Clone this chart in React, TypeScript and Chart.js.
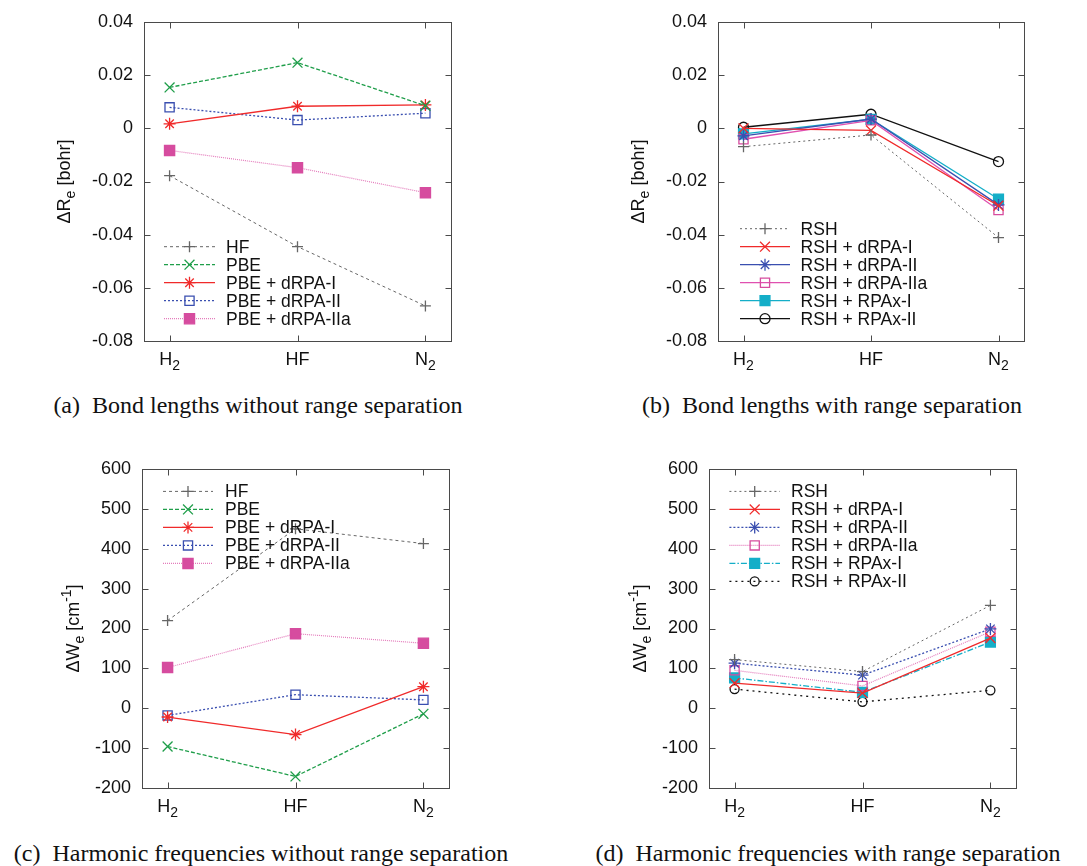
import React, { useEffect, useRef } from "react";
import { Chart, registerables } from "chart.js";

Chart.register(...registerables);

// ---------------- DATA ----------------
const categories = ["H₂", "HF", "N₂"];

const reTickValues = [-0.08, -0.06, -0.04, -0.02, 0, 0.02, 0.04];
const reTickLabels = ["-0.08", "-0.06", "-0.04", "-0.02", "0", "0.02", "0.04"];
const weTickValues = [-200, -100, 0, 100, 200, 300, 400, 500, 600];
const weTickLabels = ["-200", "-100", "0", "100", "200", "300", "400", "500", "600"];

const reTitle = "ΔRₑ [bohr]";
const weTitle = "ΔWₑ [cm⁻¹]";

// (a) bond lengths without range separation
const aLabels = ["HF", "PBE", "PBE + dRPA-I", "PBE + dRPA-II", "PBE + dRPA-IIa"];
const aHF = [-0.0178, -0.0445, -0.0668];
const aPBE = [0.0154, 0.0247, 0.0085];
const aPBEdRPAI = [0.0017, 0.0083, 0.0088];
const aPBEdRPAII = [0.0079, 0.0031, 0.0057];
const aPBEdRPAIIa = [-0.0083, -0.0148, -0.0242];

// (b) bond lengths with range separation
const bLabels = ["RSH", "RSH + dRPA-I", "RSH + dRPA-II", "RSH + dRPA-IIa", "RSH + RPAx-I", "RSH + RPAx-II"];
const bRSH = [-0.0069, -0.0025, -0.0411];
const bRSHdRPAI = [0.0, -0.0008, -0.0291];
const bRSHdRPAII = [-0.0028, 0.0035, -0.0288];
const bRSHdRPAIIa = [-0.0041, 0.003, -0.0307];
const bRSHRPAxI = [-0.0021, 0.0034, -0.0266];
const bRSHRPAxII = [0.0004, 0.0053, -0.0125];

// (c) harmonic frequencies without range separation
const cLabels = ["HF", "PBE", "PBE + dRPA-I", "PBE + dRPA-II", "PBE + dRPA-IIa"];
const cHF = [220, 450, 413];
const cPBE = [-96, -171, -14];
const cPBEdRPAI = [-22, -66, 54];
const cPBEdRPAII = [-18, 34, 21];
const cPBEdRPAIIa = [102, 187, 163];

// (d) harmonic frequencies with range separation
const dLabels = ["RSH", "RSH + dRPA-I", "RSH + dRPA-II", "RSH + dRPA-IIa", "RSH + RPAx-I", "RSH + RPAx-II"];
const dRSH = [122, 92, 258];
const dRSHdRPAI = [63, 38, 176];
const dRSHdRPAII = [113, 83, 199];
const dRSHdRPAIIa = [95, 56, 192];
const dRSHRPAxI = [76, 40, 166];
const dRSHRPAxII = [48, 16, 45];

const captions = [
  "(a)\u2002Bond lengths without range separation",
  "(b)\u2002Bond lengths with range separation",
  "(c)\u2002Harmonic frequencies without range separation",
  "(d)\u2002Harmonic frequencies with range separation",
];

// ---------------- STYLES ----------------
type Style = {
  color: string;
  lineColor?: string;
  dash: number[];
  width: number;
  marker: string;
  r: number;
  filled: boolean;
};

const GRAY = "#666666";
const GREEN = "#1f9e4a";
const RED = "#f02a2a";
const BLUE = "#3a4fb0";
const MAG = "#d64c9f";
const CYAN = "#14aec8";
const BLACK = "#111111";

const sGrayCross: Style = { color: GRAY, dash: [3, 3], width: 1, marker: "cross", r: 5.5, filled: false };
const sGreen: Style = { color: GREEN, dash: [4, 2], width: 1.3, marker: "crossRot", r: 7, filled: false };
const sRedStar: Style = { color: RED, dash: [], width: 1.3, marker: "star", r: 6, filled: false };
const sBlueSq: Style = { color: BLUE, dash: [2, 2], width: 1.3, marker: "rect", r: 6.5, filled: false };
const sMagFill: Style = { color: MAG, lineColor: "#e47cbc", dash: [1, 1], width: 1.2, marker: "rect", r: 7.2, filled: true };

const sRSHb: Style = { color: GRAY, dash: [2, 3], width: 1, marker: "cross", r: 5.5, filled: false };
const sRedX: Style = { color: RED, dash: [], width: 1.3, marker: "crossRot", r: 7, filled: false };
const sBlueStarSolid: Style = { color: BLUE, dash: [], width: 1.3, marker: "star", r: 6, filled: false };
const sMagOpenSolid: Style = { color: MAG, lineColor: "#e050b0", dash: [], width: 1.3, marker: "rect", r: 6.5, filled: false };
const sCyanSolid: Style = { color: CYAN, dash: [], width: 1.3, marker: "rect", r: 7, filled: true };
const sBlackCircle: Style = { color: BLACK, dash: [], width: 1.3, marker: "circle", r: 5, filled: false };

const sBlueStarDot: Style = { color: BLUE, dash: [2, 2], width: 1.3, marker: "star", r: 6, filled: false };
const sMagOpenDot: Style = { color: MAG, lineColor: "#e47cbc", dash: [1, 1], width: 1.2, marker: "rect", r: 6.5, filled: false };
const sCyanDashDot: Style = { color: CYAN, dash: [6, 2, 1.5, 2], width: 1.3, marker: "rect", r: 7, filled: true };
const sBlackCircleDot: Style = { color: BLACK, dash: [2, 4], width: 1.3, marker: "circle", r: 4.5, filled: false };

// ---------------- HELPERS ----------------
type Seg = { t: string; sub?: boolean; sup?: boolean };
const SUBS: Record<string, string> = { "₀": "0", "₁": "1", "₂": "2", "₃": "3", "ₑ": "e" };
const SUPS: Record<string, string> = { "⁻": "-", "¹": "1", "²": "2" };

function toSegs(s: string): Seg[] {
  const out: Seg[] = [];
  for (const ch of s) {
    let seg: Seg;
    if (SUBS[ch]) seg = { t: SUBS[ch], sub: true };
    else if (SUPS[ch]) seg = { t: SUPS[ch], sup: true };
    else seg = { t: ch };
    const last = out[out.length - 1];
    if (last && !!last.sub === !!seg.sub && !!last.sup === !!seg.sup) last.t += seg.t;
    else out.push(seg);
  }
  return out;
}

const FONT = '"Liberation Sans", Arial, Helvetica, sans-serif';
const FS = 18;

function drawRich(ctx: CanvasRenderingContext2D, text: string, x: number, y: number, size: number) {
  const segs = toSegs(text);
  const small = Math.round(size * 0.76);
  let total = 0;
  const widths = segs.map((s) => {
    ctx.font = `${s.sub || s.sup ? small : size}px ${FONT}`;
    const w = ctx.measureText(s.t).width;
    total += w;
    return w;
  });
  let cx = x - total / 2;
  ctx.textAlign = "left";
  ctx.textBaseline = "alphabetic";
  segs.forEach((s, i) => {
    ctx.font = `${s.sub || s.sup ? small : size}px ${FONT}`;
    const dy = s.sub ? size * 0.28 : s.sup ? -size * 0.42 : 0;
    ctx.fillText(s.t, cx, y + dy);
    cx += widths[i];
  });
}

function drawMarker(ctx: CanvasRenderingContext2D, st: Style, x: number, y: number) {
  const r = st.r;
  ctx.save();
  ctx.setLineDash([]);
  ctx.lineWidth = 1.3;
  ctx.strokeStyle = st.color;
  ctx.fillStyle = st.color;
  ctx.beginPath();
  const o = r * Math.SQRT1_2;
  switch (st.marker) {
    case "circle":
      ctx.arc(x, y, r, 0, Math.PI * 2);
      ctx.closePath();
      break;
    case "rect":
      ctx.rect(x - o, y - o, 2 * o, 2 * o);
      break;
    case "cross":
      ctx.moveTo(x, y - r); ctx.lineTo(x, y + r); ctx.moveTo(x - r, y); ctx.lineTo(x + r, y);
      break;
    case "crossRot":
      ctx.moveTo(x - o, y - o); ctx.lineTo(x + o, y + o); ctx.moveTo(x - o, y + o); ctx.lineTo(x + o, y - o);
      break;
    case "star":
      ctx.moveTo(x, y - r); ctx.lineTo(x, y + r); ctx.moveTo(x - r, y); ctx.lineTo(x + r, y);
      ctx.moveTo(x - o, y - o); ctx.lineTo(x + o, y + o); ctx.moveTo(x - o, y + o); ctx.lineTo(x + o, y - o);
      break;
  }
  if (st.filled) ctx.fill();
  ctx.stroke();
  ctx.restore();
}

type PanelSpec = {
  left: number; top: number; w: number; h: number;
  yW: number; xH: number; padTop: number; padRight: number;
  tickVals: number[]; tickLabels: string[]; title: string; titleOff: number;
  series: number[][]; labels: string[]; styles: Style[];
  legX: number; legY: number; legLen: number; legText: number;
};

const panels: PanelSpec[] = [
  {
    left: 0, top: 0, w: 543, h: 385, yW: 144, xH: 44, padTop: 22, padRight: 92,
    tickVals: reTickValues, tickLabels: reTickLabels, title: reTitle, titleOff: 81,
    series: [aHF, aPBE, aPBEdRPAI, aPBEdRPAII, aPBEdRPAIIa], labels: aLabels,
    styles: [sGrayCross, sGreen, sRedStar, sBlueSq, sMagFill],
    legX: 20, legY: 224.7, legLen: 51, legText: 62,
  },
  {
    left: 543, top: 0, w: 544, h: 385, yW: 175, xH: 44, padTop: 22, padRight: 63,
    tickVals: reTickValues, tickLabels: reTickLabels, title: reTitle, titleOff: 81,
    series: [bRSH, bRSHdRPAI, bRSHdRPAII, bRSHdRPAIIa, bRSHRPAxI, bRSHRPAxII], labels: bLabels,
    styles: [sRSHb, sRedX, sBlueStarSolid, sMagOpenSolid, sCyanSolid, sBlackCircle],
    legX: 22, legY: 206.7, legLen: 50, legText: 60.6,
  },
  {
    left: 0, top: 430, w: 543, h: 402, yW: 142, xH: 44, padTop: 39, padRight: 94,
    tickVals: weTickValues, tickLabels: weTickLabels, title: weTitle, titleOff: 70,
    series: [cHF, cPBE, cPBEdRPAI, cPBEdRPAII, cPBEdRPAIIa], labels: cLabels,
    styles: [sGrayCross, sGreen, sRedStar, sBlueSq, sMagFill],
    legX: 21, legY: 22.4, legLen: 50, legText: 62,
  },
  {
    left: 543, top: 430, w: 544, h: 402, yW: 166, xH: 44, padTop: 39, padRight: 71,
    tickVals: weTickValues, tickLabels: weTickLabels, title: weTitle, titleOff: 70,
    series: [dRSH, dRSHdRPAI, dRSHdRPAII, dRSHdRPAIIa, dRSHRPAxI, dRSHRPAxII], labels: dLabels,
    styles: [sRSHb, sRedX, sBlueStarDot, sMagOpenDot, sCyanDashDot, sBlackCircleDot],
    legX: 20.4, legY: 22.4, legLen: 50.6, legText: 61.6,
  },
];

function Panel({ spec }: { spec: PanelSpec }) {
  const ref = useRef<HTMLCanvasElement | null>(null);
  useEffect(() => {
    const canvas = ref.current;
    if (!canvas) return;
    const s = spec;
    const framePlugin = {
      id: "gnuFrame",
      afterDatasetsDraw(chart: any) {
        const { ctx, chartArea: a } = chart;
        ctx.save();
        s.labels.forEach((lab, i) => {
          const st = s.styles[i];
          const y = a.top + s.legY + i * 18;
          const x0 = a.left + s.legX;
          ctx.save();
          ctx.strokeStyle = st.lineColor || st.color;
          ctx.lineWidth = st.width;
          ctx.setLineDash(st.dash);
          ctx.beginPath();
          ctx.moveTo(x0, y);
          ctx.lineTo(x0 + s.legLen, y);
          ctx.stroke();
          ctx.restore();
          drawMarker(ctx, st, x0 + s.legLen / 2, y);
          ctx.fillStyle = "#111";
          ctx.font = `17.5px ${FONT}`;
          ctx.textAlign = "left";
          ctx.textBaseline = "middle";
          ctx.fillText(lab, x0 + s.legText, y + 1);
        });
        ctx.restore();
      },
      afterDraw(chart: any) {
        const { ctx, chartArea: a, scales } = chart;
        ctx.save();
        ctx.strokeStyle = "#4a4a4a";
        ctx.lineWidth = 1;
        ctx.setLineDash([]);
        const L = Math.round(a.left) + 0.5, R = Math.round(a.right) + 0.5;
        const T = Math.round(a.top) + 0.5, B = Math.round(a.bottom) + 0.5;
        ctx.strokeRect(L, T, R - L, B - T);
        ctx.beginPath();
        s.tickVals.forEach((v) => {
          const py = Math.round(scales.y.getPixelForValue(v)) + 0.5;
          ctx.moveTo(L, py); ctx.lineTo(L + 6, py);
          ctx.moveTo(R, py); ctx.lineTo(R - 6, py);
        });
        categories.forEach((_, i) => {
          const px = Math.round(scales.x.getPixelForValue(i)) + 0.5;
          ctx.moveTo(px, B); ctx.lineTo(px, B - 6);
          ctx.moveTo(px, T); ctx.lineTo(px, T + 6);
        });
        ctx.stroke();
        ctx.fillStyle = "#111";
        categories.forEach((c, i) => {
          const px = scales.x.getPixelForValue(i);
          drawRich(ctx, c, px, a.bottom + 23.5, FS);
        });
        ctx.save();
        ctx.translate(a.left - s.titleOff, (a.top + a.bottom) / 2);
        ctx.rotate(-Math.PI / 2);
        drawRich(ctx, s.title, 0, 6.5, FS);
        ctx.restore();
        ctx.restore();
      },
    };

    const datasets = s.series.map((vals, i) => {
      const st = s.styles[i];
      return {
        label: s.labels[i],
        data: vals.map((v, k) => ({ x: k, y: v })),
        borderColor: st.lineColor || st.color,
        borderWidth: st.width,
        borderDash: st.dash,
        pointStyle: st.marker,
        pointRadius: st.r,
        pointBorderColor: st.color,
        pointBackgroundColor: st.filled ? st.color : "rgba(0,0,0,0)",
        pointBorderWidth: 1.3,
        fill: false,
        tension: 0,
        showLine: true,
      };
    });

    const chart = new Chart(canvas, {
      type: "line",
      data: { datasets } as any,
      options: {
        responsive: false,
        animation: false,
        events: [],
        layout: { padding: { left: 0, top: s.padTop, right: s.padRight, bottom: 0 } },
        plugins: { legend: { display: false }, title: { display: false }, tooltip: { enabled: false } },
        scales: {
          x: {
            type: "linear",
            min: -0.2,
            max: 2.2,
            grid: { display: false },
            border: { display: false },
            ticks: { display: false },
            afterFit: (sc: any) => { sc.height = s.xH; },
          },
          y: {
            type: "linear",
            min: s.tickVals[0],
            max: s.tickVals[s.tickVals.length - 1],
            grid: { display: false, drawTicks: false },
            border: { display: false },
            afterBuildTicks: (sc: any) => { sc.ticks = s.tickVals.map((v) => ({ value: v })); },
            ticks: {
              padding: 11,
              color: "#111",
              font: { family: FONT, size: FS },
              callback: (_v: any, idx: number) => s.tickLabels[idx],
            },
            afterFit: (sc: any) => { sc.width = s.yW; },
          },
        },
      } as any,
      plugins: [framePlugin],
    });
    return () => chart.destroy();
  }, [spec]);
  return (
    <canvas
      ref={ref}
      width={spec.w}
      height={spec.h}
      style={{ position: "absolute", left: spec.left, top: spec.top, width: spec.w, height: spec.h }}
    />
  );
}

const captionPos = [
  { cx: 258, cy: 405 },
  { cx: 832, cy: 405 },
  { cx: 261, cy: 853 },
  { cx: 828, cy: 853 },
];

export default function App() {
  return (
    <div style={{ position: "absolute", left: 0, top: 0, width: 1087, height: 866, background: "#fff", overflow: "hidden" }}>
      {panels.map((p, i) => (
        <Panel key={i} spec={p} />
      ))}
      {captions.map((c, i) => (
        <div
          key={"c" + i}
          style={{
            position: "absolute",
            left: captionPos[i].cx - 300,
            width: 600,
            top: captionPos[i].cy - 15,
            height: 30,
            lineHeight: "30px",
            textAlign: "center",
            fontFamily: '"Liberation Serif", "Times New Roman", serif',
            fontSize: 24,
            color: "#111",
            whiteSpace: "nowrap",
          }}
        >
          {c}
        </div>
      ))}
    </div>
  );
}
